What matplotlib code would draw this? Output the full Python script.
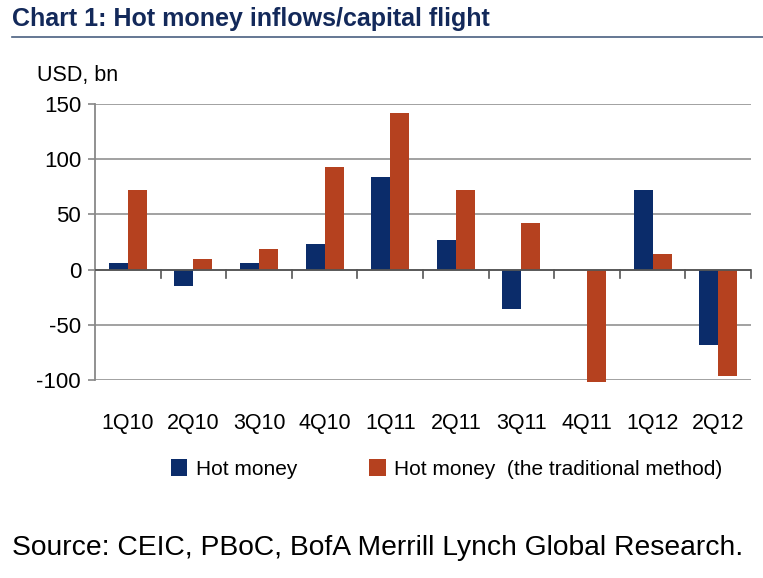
import numpy as np
import matplotlib
matplotlib.use("Agg")
import matplotlib.pyplot as plt
from matplotlib.font_manager import fontManager

# quarters and values (USD bn)
quarters = ["1Q10", "2Q10", "3Q10", "4Q10", "1Q11", "2Q11", "3Q11", "4Q11", "1Q12", "2Q12"]
hot_money = [6, -15, 6, 23, 84, 27, -36, 0, 72, -68]
hot_money_trad = [72, 10, 19, 93, 142, 72, 42, -102, 14, -96]
yticks = [-100, -50, 0, 50, 100, 150]

BLUE = "#0B2C6A"
ORANGE = "#B5411F"
NAVY = "#13295A"

names = {f.name for f in fontManager.ttflist}
narrow = "Liberation Sans Narrow" if "Liberation Sans Narrow" in names else "Liberation Sans"

fig = plt.figure(figsize=(7.63, 5.78), dpi=100)
ax = fig.add_axes([95 / 763, 1 - 380 / 578, 656 / 763, 276 / 578])

x = np.arange(len(quarters))
w = 0.29
ax.bar(x - w / 2, hot_money, w, color=BLUE, label="Hot money", zorder=3, clip_on=False)
ax.bar(x + w / 2, hot_money_trad, w, color=ORANGE,
       label="Hot money  (the traditional method)", zorder=3, clip_on=False)

ax.set_xlim(-0.5, len(quarters) - 0.5)
ax.set_ylim(-100, 150)
ax.set_yticks(yticks)
ax.set_yticklabels([str(v) for v in yticks], fontsize=16, family=narrow)
ax.yaxis.grid(True, color="#9a9a9a", linewidth=1.3, zorder=0)
ax.tick_params(axis="y", length=5, width=1.2, color="#888888", pad=5)

for s in ["top", "right", "bottom"]:
    ax.spines[s].set_visible(False)
ax.spines["left"].set_color("#888888")
ax.spines["left"].set_linewidth(1.3)
ax.axhline(0, color="#555555", linewidth=1.3, zorder=4)

# category separator ticks on the zero line, labels below the plot
ax.set_xticks([])
for b in np.arange(0.5, len(quarters), 1.0):
    ax.plot([b, b], [0, -8], color="#555555", linewidth=1.2, zorder=4, clip_on=False)
for xi, q in zip(x, quarters):
    ax.text(xi, -139, q, ha="center", va="center", fontsize=15.5, family=narrow)

fig.text(37 / 763, 1 - 76 / 578, "USD, bn", fontsize=15.5, family=narrow,
         ha="left", va="center")

fig.text(12 / 763, 1 - 19 / 578, "Chart 1: Hot money inflows/capital flight",
         fontsize=18, fontweight="bold", color=NAVY, family=narrow, va="center")
fig.add_artist(plt.Line2D([12 / 763, 1], [1 - 37 / 578] * 2, color="#4a6080",
                          linewidth=1.2, transform=fig.transFigure))

ax.legend(loc="center left", bbox_to_anchor=(152 / 763, 1 - 469 / 578),
          bbox_transform=fig.transFigure, ncol=2, frameon=False,
          prop={"family": narrow, "size": 15}, handlelength=0.8,
          handleheight=0.9, handletextpad=0.4, columnspacing=3.45)

fig.text(12 / 763, 1 - 548 / 578,
         "Source: CEIC, PBoC, BofA Merrill Lynch Global Research.",
         fontsize=20.3, va="center", family="Liberation Sans")

fig.savefig("out.png", dpi=100)
